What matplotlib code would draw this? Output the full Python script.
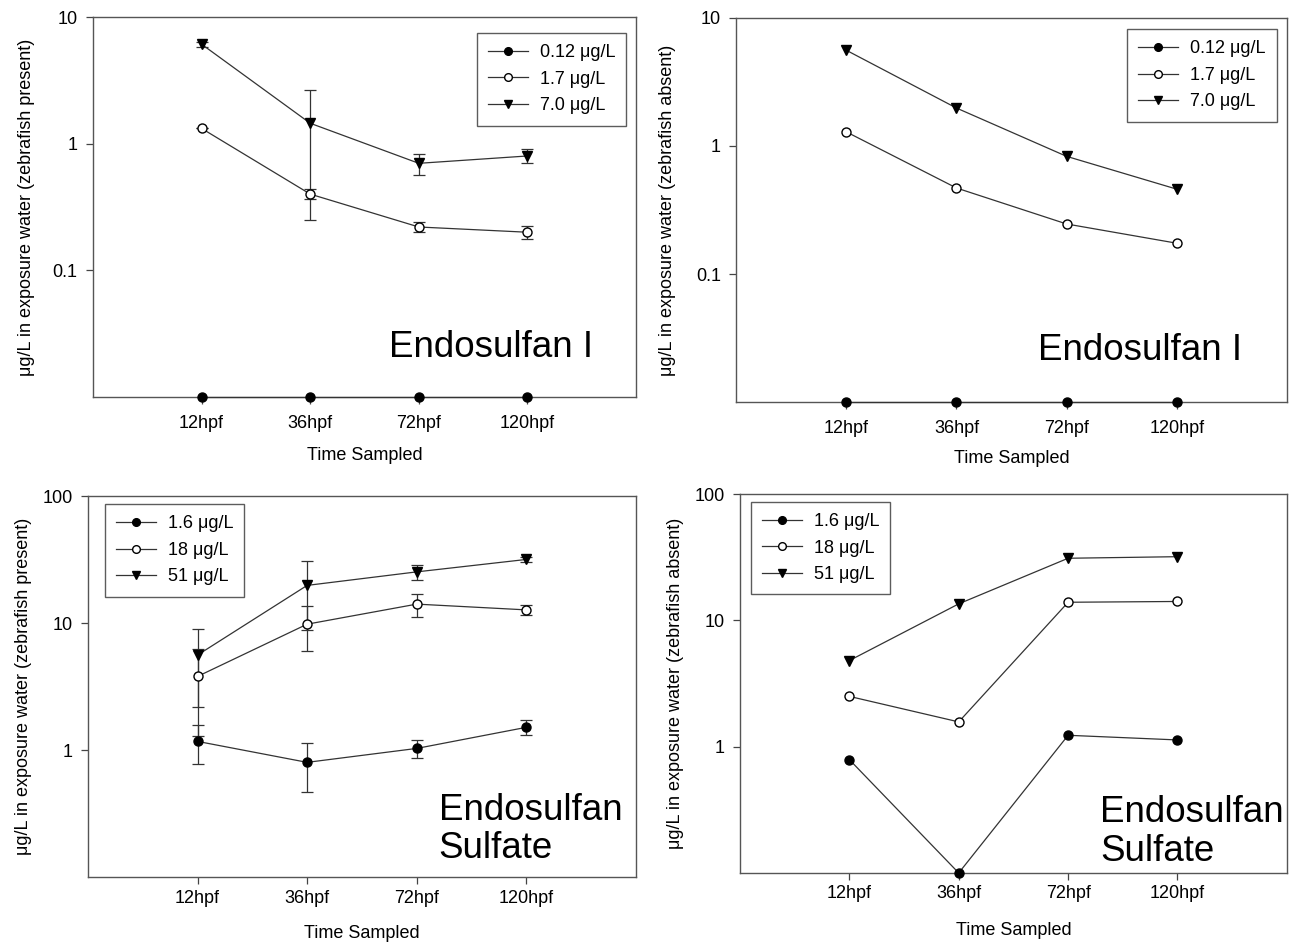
import numpy as np
import matplotlib.pyplot as plt

plt.rcParams['font.family'] = ['Liberation Sans', 'DejaVu Sans']

times = ['12hpf', '36hpf', '72hpf', '120hpf']

# Endosulfan I, zebrafish present
endo1_labels = ['0.12 μg/L', '1.7 μg/L', '7.0 μg/L']
endo1_present = [
    [0.01, 0.01, 0.01, 0.01],
    [1.32, 0.40, 0.22, 0.20],
    [6.1, 1.45, 0.70, 0.80],
]
endo1_present_err = [
    [0, 0, 0, 0],
    [0, 0.035, 0.02, 0.022],
    [0.3, 1.2, 0.13, 0.1],
]

# Endosulfan I, zebrafish absent
endo1_absent = [
    [0.01, 0.01, 0.01, 0.01],
    [1.29, 0.47, 0.246, 0.174],
    [5.6, 1.98, 0.83, 0.46],
]

# Endosulfan sulfate, zebrafish present
sulf_labels = ['1.6 μg/L', '18 μg/L', '51 μg/L']
sulf_present = [
    [1.17, 0.80, 1.03, 1.51],
    [3.8, 9.8, 14.1, 12.7],
    [5.6, 19.8, 25.3, 31.7],
]
sulf_present_err = [
    [0.4, 0.33, 0.17, 0.2],
    [2.5, 3.8, 2.9, 1.1],
    [3.4, 11.0, 3.3, 1.5],
]

# Endosulfan sulfate, zebrafish absent
sulf_absent = [
    [0.79, 0.1, 1.23, 1.13],
    [2.5, 1.57, 13.9, 14.1],
    [4.8, 13.5, 31.0, 31.9],
]

markers = [dict(marker='o', mfc='black', mec='black'),
           dict(marker='o', mfc='white', mec='black'),
           dict(marker='v', mfc='black', mec='black')]


def draw_panel(ax, values, labels, errors, ylim, yticks, ylabel, name, text_xy,
               leg_loc, leg_anchor, ylab_x, xlab_y, xpad):
    x = np.arange(1, len(times) + 1)
    for i, vals in enumerate(values):
        if errors is not None and any(errors[i]):
            ax.errorbar(x, vals, yerr=errors[i], fmt='none', ecolor='#333333',
                        elinewidth=0.9, capsize=4, capthick=0.9, zorder=2)
        ax.plot(x, vals, color='#333333', lw=0.9, ms=6.5, label=labels[i],
                clip_on=False, zorder=3, **markers[i])
    ax.set_yscale('log')
    ax.set_ylim(*ylim)
    ax.set_xlim(0, 5)
    ax.set_yticks(yticks)
    ax.set_yticklabels([('%g' % t) for t in yticks])
    ax.minorticks_off()
    ax.set_xticks(x)
    ax.set_xticklabels(times)
    ax.tick_params(direction='out', length=5, width=0.9, labelsize=13,
                   color='#444444')
    ax.tick_params(axis='y', pad=6)
    ax.tick_params(axis='x', pad=xpad)
    for s in ax.spines.values():
        s.set_color('#555555')
        s.set_linewidth(1.0)
    ax.set_ylabel(ylabel, fontsize=13, va='center')
    ax.yaxis.set_label_coords(ylab_x, 0.5)
    ax.set_xlabel('Time Sampled', fontsize=13, va='center')
    ax.xaxis.set_label_coords(0.5, xlab_y)
    ax.text(text_xy[0], text_xy[1], name, transform=ax.transAxes,
            fontsize=26.5, ha='left', va='center', linespacing=1.12)
    leg = ax.legend(loc=leg_loc, bbox_to_anchor=leg_anchor, fontsize=13,
                    frameon=True, fancybox=False, edgecolor='#333333',
                    handlelength=2.2, handletextpad=0.65, labelspacing=0.53,
                    borderpad=0.62, borderaxespad=0, markerscale=0.85)
    leg.get_frame().set_linewidth(1.0)


fig = plt.figure(figsize=(12.97, 9.46), dpi=100)
ax1 = fig.add_axes([0.0717, 0.5803, 0.4187, 0.4017])
ax2 = fig.add_axes([0.5675, 0.575, 0.4248, 0.406])
ax3 = fig.add_axes([0.0678, 0.0729, 0.4225, 0.4027])
ax4 = fig.add_axes([0.5705, 0.0772, 0.4217, 0.4006])

draw_panel(ax1, endo1_present, endo1_labels, endo1_present_err, (0.01, 10),
           [0.1, 1, 10], 'μg/L in exposure water (zebrafish present)',
           'Endosulfan I', (0.545, 0.13), 'upper right', (0.982, 0.958),
           -0.123, -0.153, 8)
draw_panel(ax2, endo1_absent, endo1_labels, None, (0.01, 10),
           [0.1, 1, 10], 'μg/L in exposure water (zebrafish absent)',
           'Endosulfan I', (0.548, 0.133), 'upper right', (0.981, 0.971),
           -0.125, -0.148, 8)
draw_panel(ax3, sulf_present, sulf_labels, sulf_present_err, (0.1, 100),
           [1, 10, 100], 'μg/L in exposure water (zebrafish present)',
           'Endosulfan\nSulfate', (0.64, 0.125), 'upper left', (0.031, 0.979),
           -0.1175, -0.149, 4)
draw_panel(ax4, sulf_absent, sulf_labels, None, (0.1, 100),
           [1, 10, 100], 'μg/L in exposure water (zebrafish absent)',
           'Endosulfan\nSulfate', (0.658, 0.108), 'upper left', (0.02, 0.979),
           -0.118, -0.152, 4)

fig.savefig('out.png', dpi=100)
